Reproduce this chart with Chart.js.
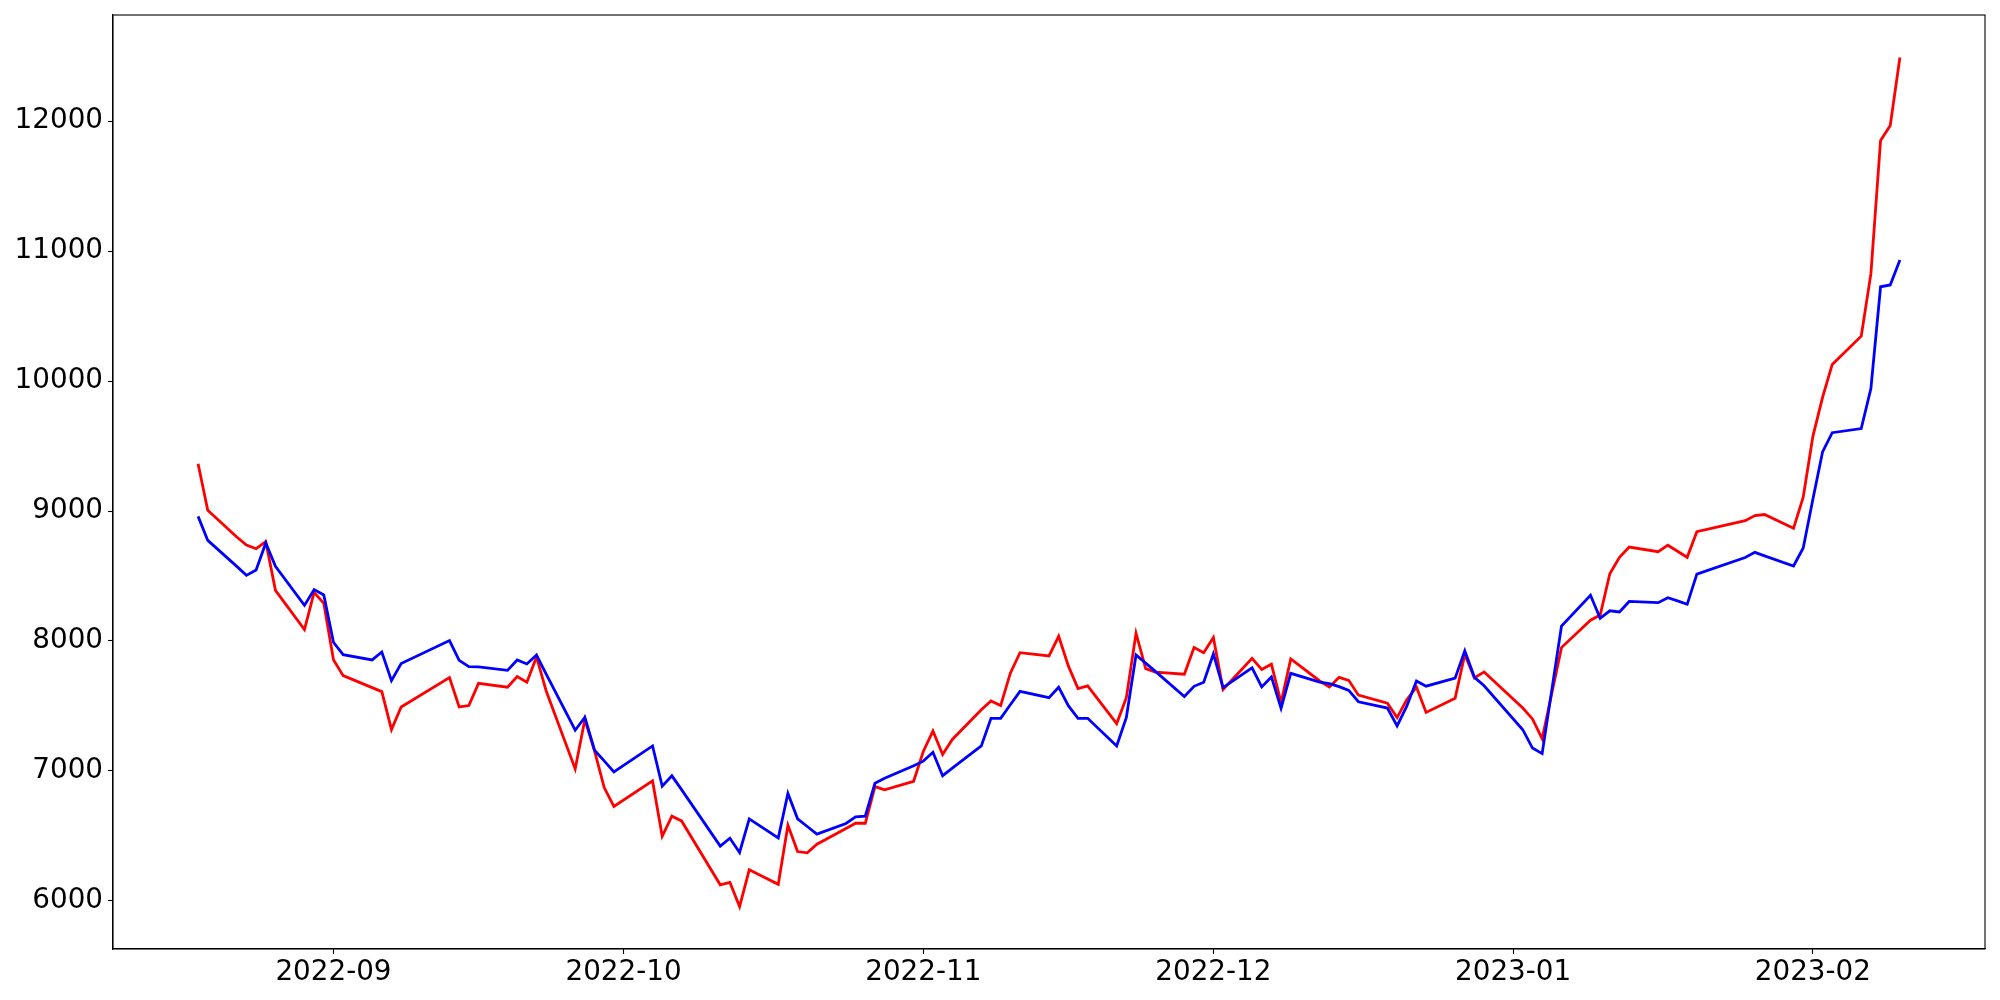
<!DOCTYPE html>
<html><head><meta charset="utf-8">
<script src="https://cdn.jsdelivr.net/npm/chart.js@4.4.0/dist/chart.umd.min.js"></script>
<style>html,body{margin:0;padding:0;background:#fff;} canvas{display:block}</style>
</head><body>
<canvas id="c" width="2000" height="1000"></canvas>
<script>
const dates = [
"2022-08-18","2022-08-19","2022-08-22","2022-08-23","2022-08-24","2022-08-25","2022-08-26","2022-08-29","2022-08-30","2022-08-31",
"2022-09-01","2022-09-02","2022-09-05","2022-09-06","2022-09-07","2022-09-08","2022-09-13","2022-09-14","2022-09-15","2022-09-16",
"2022-09-19","2022-09-20","2022-09-21","2022-09-22","2022-09-23","2022-09-26","2022-09-27","2022-09-28","2022-09-29","2022-09-30",
"2022-10-04","2022-10-05","2022-10-06","2022-10-07","2022-10-11","2022-10-12","2022-10-13","2022-10-14","2022-10-17","2022-10-18",
"2022-10-19","2022-10-20","2022-10-21","2022-10-24","2022-10-25","2022-10-26","2022-10-27","2022-10-28","2022-10-31","2022-11-01",
"2022-11-02","2022-11-03","2022-11-04","2022-11-07","2022-11-08","2022-11-09","2022-11-10","2022-11-11","2022-11-14","2022-11-15",
"2022-11-16","2022-11-17","2022-11-18","2022-11-21","2022-11-22","2022-11-23","2022-11-24","2022-11-25","2022-11-28","2022-11-29",
"2022-11-30","2022-12-01","2022-12-02","2022-12-05","2022-12-06","2022-12-07","2022-12-08","2022-12-09","2022-12-12","2022-12-13",
"2022-12-14","2022-12-15","2022-12-16","2022-12-19","2022-12-20","2022-12-21","2022-12-22","2022-12-23","2022-12-26","2022-12-27",
"2022-12-28","2022-12-29","2023-01-02","2023-01-03","2023-01-04","2023-01-06","2023-01-09","2023-01-10","2023-01-11","2023-01-12",
"2023-01-13","2023-01-16","2023-01-17","2023-01-18","2023-01-19","2023-01-20","2023-01-25","2023-01-26","2023-01-27","2023-01-30",
"2023-01-31","2023-02-01","2023-02-02","2023-02-03","2023-02-06","2023-02-07","2023-02-08","2023-02-09","2023-02-10"
];
const redValues = [
9364,9005,8800,8738,8710,8764,8390,8087,8374,8290,
7856,7733,7641,7610,7318,7492,7718,7492,7503,7674,
7644,7726,7682,7877,7615,7015,7395,7154,6872,6726,
6923,6497,6651,6615,6123,6141,5956,6239,6127,6582,
6379,6369,6436,6556,6597,6597,6879,6854,6920,7150,
7307,7126,7242,7470,7538,7503,7752,7910,7885,8036,
7808,7633,7654,7364,7564,8060,7787,7760,7744,7949,
7910,8026,7626,7867,7780,7821,7526,7862,7692,7646,
7720,7697,7583,7521,7410,7548,7645,7450,7559,7897,
7715,7762,7484,7400,7248,7949,8160,8200,8518,8644,
8723,8687,8737,8691,8644,8841,8926,8965,8973,8867,
9106,9575,9874,10128,10346,10827,11852,11968,12491
];
const blueValues = [
8959,8774,8574,8505,8546,8754,8574,8274,8395,8354,
7990,7895,7854,7915,7695,7826,8003,7851,7802,7801,
7774,7854,7823,7892,7744,7313,7413,7159,7077,6992,
7192,6882,6962,6856,6421,6482,6372,6631,6484,6826,
6631,6572,6513,6595,6646,6651,6905,6944,7040,7075,
7143,6963,7021,7192,7404,7404,7509,7612,7564,7644,
7502,7405,7405,7192,7412,7892,7830,7766,7573,7651,
7682,7900,7641,7793,7646,7723,7482,7751,7684,7672,
7649,7620,7532,7484,7346,7498,7692,7652,7714,7923,
7720,7655,7317,7176,7133,8114,8352,8174,8232,8223,
8304,8295,8333,8308,8282,8514,8642,8682,8655,8577,
8716,9090,9455,9603,9635,9943,10726,10740,10932
];
const xTickLabels = ["2022-09","2022-10","2022-11","2022-12","2023-01","2023-02"];
const yTickValues = [6000,7000,8000,9000,10000,11000,12000];

function dayNum(s){ const p = s.split('-').map(Number); return Date.UTC(p[0], p[1]-1, p[2] || 1) / 86400000; }
const xs = dates.map(dayNum);
const xTickPos = xTickLabels.map(dayNum);
const labelByPos = {}; xTickPos.forEach((v,i)=>{ labelByPos[v] = xTickLabels[i]; });

const allY = redValues.concat(blueValues);
const yLo = Math.min(...allY), yHi = Math.max(...allY);
const xLo = xs[0], xHi = xs[xs.length-1];
const mx = 0.05*(xHi-xLo), my = 0.05*(yHi-yLo);

const FONT = {family: 'DejaVu Sans', size: 27.8};

const frame = {
  id: 'frame',
  afterDraw(chart){
    const {ctx, chartArea: a} = chart;
    ctx.save();
    ctx.strokeStyle = '#000'; ctx.lineWidth = 1.1;
    ctx.strokeRect(a.left, a.top, a.right - a.left, a.bottom - a.top);
    ctx.restore();
  }
};

new Chart(document.getElementById('c'), {
  type: 'line',
  data: {
    datasets: [
      { label: 'blue', data: xs.map((x,i)=>({x, y: blueValues[i]})), borderColor: '#0000ff', borderWidth: 2.8, pointRadius: 0, tension: 0, fill: false },
      { label: 'red', data: xs.map((x,i)=>({x, y: redValues[i]})), borderColor: '#ff0000', borderWidth: 2.8, pointRadius: 0, tension: 0, fill: false }
    ]
  },
  options: {
    responsive: false, animation: false, devicePixelRatio: 1,
    layout: { padding: { left: 0, top: 15, right: 15, bottom: 0 } },
    plugins: { legend: { display: false }, tooltip: { enabled: false } },
    scales: {
      x: {
        type: 'linear', min: xLo - mx, max: xHi + mx,
        afterBuildTicks(scale){ scale.ticks = xTickPos.map(v => ({value: v})); },
        afterFit(scale){ scale.height = 51; scale.paddingLeft = 0; scale.paddingRight = 0; },
        ticks: { autoSkip: false, maxRotation: 0, color: '#000', font: FONT, padding: 2,
                 callback: v => labelByPos[v] || '' },
        grid: { drawOnChartArea: false, drawTicks: true, tickLength: 5, tickColor: '#000', tickWidth: 1.1 },
        border: { display: true, color: '#000', width: 1.1 }
      },
      y: {
        type: 'linear', min: yLo - my, max: yHi + my,
        afterBuildTicks(scale){ scale.ticks = yTickValues.map(v => ({value: v})); },
        afterFit(scale){ scale.width = 113; scale.paddingTop = 0; scale.paddingBottom = 0; },
        ticks: { color: '#000', font: FONT, padding: 5, callback: v => String(v) },
        grid: { drawOnChartArea: false, drawTicks: true, tickLength: 5, tickColor: '#000', tickWidth: 1.1 },
        border: { display: true, color: '#000', width: 1.1 }
      }
    }
  },
  plugins: [frame]
});
</script>
</body></html>
